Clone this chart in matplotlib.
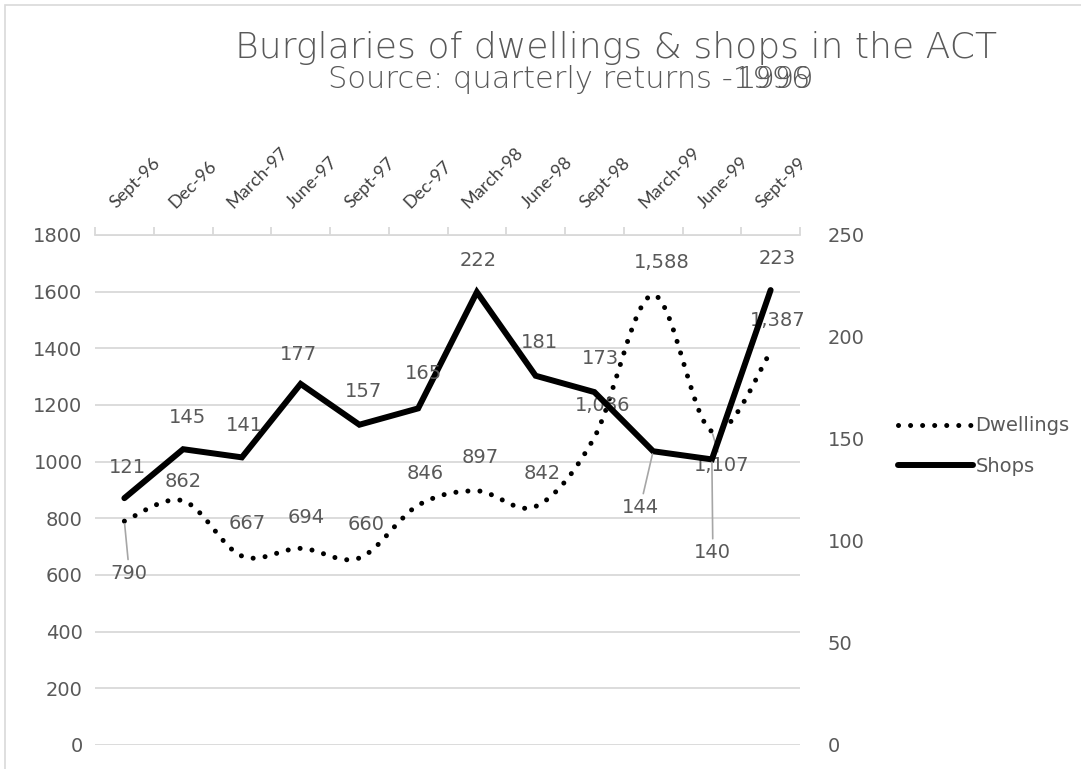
import numpy as np
import matplotlib
matplotlib.use('Agg')
import matplotlib.pyplot as plt
from matplotlib.path import Path
from matplotlib.patches import PathPatch, Rectangle
from matplotlib.lines import Line2D
import matplotlib.transforms as mtransforms

# Data
quarters = ['Sept-96', 'Dec-96', 'March-97', 'June-97', 'Sept-97', 'Dec-97',
            'March-98', 'June-98', 'Sept-98', 'March-99', 'June-99', 'Sept-99']
dwellings = [790, 862, 667, 694, 660, 846, 897, 842, 1086, 1588, 1107, 1387]
shops = [121, 145, 141, 177, 157, 165, 222, 181, 173, 144, 140, 223]

# label offsets in pixels (dx, dy) relative to each point, as Excel placed them
dw_offsets = [(5, -52), (0, 19), (5, 33), (6, 31), (7, 33), (7, 32),
              (3, 33), (7, 33), (8, 32), (9, 33), (10, -34), (7, 32)]
sh_offsets = [(3, 31), (4, 32), (3, 32), (-2, 29), (4, 33), (5, 35),
              (1, 32), (4, 33), (6, 34), (-13, -56), (1, -93), (7, 32)]
dw_leaders = [0, 10]
sh_leaders = [9, 10]

GREY = '#595959'
GRID = '#d9d9d9'
num_font = 'DejaVu Sans'

fig = plt.figure(figsize=(10.81, 7.69), dpi=100)
fig.patches.append(Rectangle((5 / 1081, -0.05), 1.2, 1.05 - 5 / 769,
                             transform=fig.transFigure, fill=False,
                             edgecolor=GRID, lw=1.2))

ax = fig.add_axes([95 / 1081, 24 / 769, 705 / 1081, 510 / 769])
ax2 = ax.twinx()

x = np.arange(len(quarters))

# Shops - solid line on secondary axis
ax2.plot(x, shops, color='black', lw=4.3, solid_capstyle='round',
         solid_joinstyle='miter', zorder=3)

# Dwellings - smoothed dotted line (Bezier path through the points)
pts = np.column_stack([x, dwellings]).astype(float)
verts = [pts[0]]
codes = [Path.MOVETO]
n = len(pts)
for i in range(n - 1):
    p0 = pts[i - 1] if i > 0 else pts[i]
    p1 = pts[i]
    p2 = pts[i + 1]
    p3 = pts[i + 2] if i + 2 < n else pts[i + 1]
    c1 = p1 + (p2 - p0) / 6.0
    c2 = p2 - (p3 - p1) / 6.0
    verts += [c1, c2, p2]
    codes += [Path.CURVE4] * 3
patch = PathPatch(Path(verts, codes), fill=False, edgecolor='black', lw=3.6,
                  linestyle=(0, (0.01, 2.4)), capstyle='round', zorder=3)
ax.add_patch(patch)

# axes
ax.set_xlim(-0.5, len(quarters) - 0.5)
ax.set_ylim(0, 1800)
ax2.set_ylim(0, 250)
ax.set_yticks(range(0, 1801, 200))
ax2.set_yticks(range(0, 251, 50))
ax.yaxis.grid(True, color=GRID, lw=1.3)
ax.set_axisbelow(True)

for a in (ax, ax2):
    for s in ['left', 'right', 'bottom', 'top']:
        a.spines[s].set_visible(False)
ax.spines['top'].set_visible(True)
ax.spines['top'].set_color(GRID)
ax.spines['top'].set_linewidth(1.3)

ax.tick_params(axis='y', length=0, pad=9, labelsize=14, labelcolor=GREY)
ax2.tick_params(axis='y', length=0, pad=20, labelsize=14, labelcolor=GREY)
for lab in ax.get_yticklabels() + ax2.get_yticklabels():
    lab.set_fontfamily(num_font)

ax.xaxis.tick_top()
ax.set_xticks(x)
ax.set_xticks(np.arange(-0.5, len(quarters), 1.0), minor=True)
ax.tick_params(axis='x', which='major', length=0, pad=17)
ax.tick_params(axis='x', which='minor', length=6, color=GRID, width=1.3,
               top=True, bottom=False)
ax.set_xticklabels(quarters, rotation=45, ha='left', va='bottom',
                   rotation_mode='anchor', fontsize=13, color='#404040',
                   fontfamily='Lato')
shift = mtransforms.ScaledTranslation(-6 / 100, 0, fig.dpi_scale_trans)
for lab in ax.get_xticklabels():
    lab.set_transform(lab.get_transform() + shift)

# data labels
def add_labels(axis, values, offsets, leaders, fmt):
    for i, v in enumerate(values):
        dx, dy = offsets[i]
        kw = {}
        if i in leaders:
            kw['arrowprops'] = dict(arrowstyle='-', color='#a6a6a6', lw=1.2,
                                    shrinkA=1, shrinkB=2)
        axis.annotate(fmt(v), xy=(i, v), xytext=(dx, dy),
                      textcoords='offset pixels', ha='center', va='center',
                      fontsize=14, color=GREY, fontfamily=num_font,
                      zorder=5, **kw)

add_labels(ax, dwellings, dw_offsets, dw_leaders, lambda v: f'{v:,}')
add_labels(ax2, shops, sh_offsets, sh_leaders, lambda v: f'{v}')

# title
fig.text(616 / 1081, 1 - 48 / 769, 'Burglaries of dwellings & shops in the ACT',
         ha='center', va='center', fontsize=26, color=GREY,
         fontfamily=num_font, fontweight='light')
sub = fig.text(569 / 1081, 1 - 80 / 769, 'Source: quarterly returns -1996',
               ha='center', va='center', fontsize=22, color=GREY,
               fontfamily=num_font, fontweight='light')
ax.annotate('1999', xy=(1, 0), xycoords=sub, xytext=(4, 0),
            textcoords='offset pixels', ha='right', va='bottom',
            fontsize=22, color=GREY, fontfamily=num_font, fontweight='light',
            annotation_clip=False)

# legend
handles = [Line2D([], [], color='black', lw=3.6, linestyle=(0, (0.01, 2.4)),
                  dash_capstyle='round'),
           Line2D([], [], color='black', lw=4.3, solid_capstyle='round')]
leg = fig.legend(handles, ['Dwellings', 'Shops'], loc='center left',
                 bbox_to_anchor=(880 / 1081, 1 - 446 / 769), frameon=False,
                 handlelength=3.9, handletextpad=0.1, labelspacing=1.1,
                 prop={'family': num_font, 'size': 14})
for t in leg.get_texts():
    t.set_color(GREY)

fig.savefig('out.png', dpi=100)
